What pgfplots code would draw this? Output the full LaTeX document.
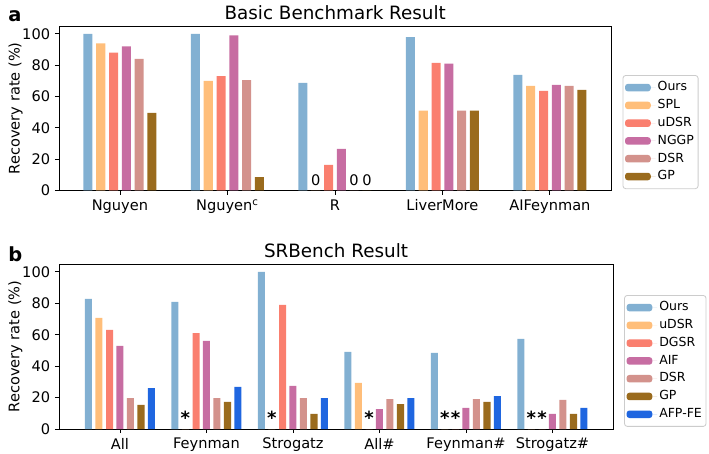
\documentclass[border=0pt]{standalone}
\usepackage{fontspec}
\setmainfont{DejaVu Sans}
\usepackage{pgfplots}
\usepackage{pgfplotstable}
\pgfplotsset{compat=1.18}

\definecolor{cOurs}{HTML}{82B0D2}
\definecolor{cSPL}{HTML}{FFBE7A}
\definecolor{cuDSR}{HTML}{FA7F6F}
\definecolor{cNGGP}{HTML}{C76DA2}
\definecolor{cDSR}{HTML}{D3928C}
\definecolor{cGP}{HTML}{9A6B1D}
\definecolor{cAFP}{HTML}{1F66E0}

\pgfplotstableread{
x Ours SPL uDSR NGGP DSR GP
0 100 94 88 92 84 49.5
1 100 70 73 99 70.5 8.5
2 68.7 0 16.3 26.5 0 0
3 98 51 81.5 81 51 51
4 73.8 66.8 63.6 67.4 66.8 64.2
}\topdata

\pgfplotstableread{
x Ours uDSR DGSR AIF DSR GP AFPFE
0 82.8 70.7 63 52.9 19.7 15.3 26
1 80.9 0 61 56 19.7 17.2 26.8
2 100 0 79 27.4 19.7 9.6 19.7
3 49 29.3 0 12.7 19 15.9 19.7
4 48.4 0 0 13.4 19 17.2 21
5 57.3 0 0 9.6 18.5 9.6 13.4
}\botdata

\tikzset{
  starnode/.style={anchor=base, font=\fontsize{13}{15}\selectfont\bfseries, inner sep=0pt},
  zeronode/.style={anchor=base, font=\fontsize{10.5}{12}\selectfont, inner sep=0pt},
}

\pgfplotsset{
  mybase/.style={
    scale only axis,
    ymin=0, ymax=105,
    ytick={0,20,40,60,80,100},
    tick align=outside,
    tick pos=left,
    major tick length=2.9pt,
    axis line style={line width=0.6pt},
    every tick/.style={black, line width=0.6pt},
    /pgf/number format/assume math mode=true,
    ticklabel style={font=\fontsize{10.5}{12}\selectfont},
    ylabel={Recovery rate (\%)},
    every axis y label/.style={at={(axis description cs:-0.0787,0.5)}, rotate=90, anchor=center, font=\fontsize{10.5}{12}\selectfont},
    every axis title/.style={at={(axis description cs:0.5,1)}, anchor=base, yshift=5pt, font=\fontsize{13.2}{15}\selectfont},
    legend image code/.code={\fill[##1] (0pt,-2.7pt) rectangle (18.5pt,2.7pt); \path (18.5pt,0pt) -- (22pt,0pt);},
    legend cell align=left,
    legend style={font=\fontsize{9}{11}\selectfont, draw=black!20, line width=0.6pt, rounded corners=2pt,
      row sep=1.3pt, inner xsep=1.5pt, inner ysep=3pt,
      nodes={inner sep=1.5pt, text height=6.6pt, text depth=1.9pt}},
  },
}

\begin{document}
\begin{tikzpicture}
\useasboundingbox (0pt,0pt) rectangle (510.48pt,326.16pt);

\node[anchor=base west, font=\fontsize{14}{16}\selectfont\bfseries, inner sep=0pt] at (5.76pt,310.32pt) {a};
\node[anchor=base west, font=\fontsize{14}{16}\selectfont\bfseries, inner sep=0pt] at (5.76pt,137.52pt) {b};

\begin{axis}[mybase,
  at={(42.48pt,189pt)}, anchor=south west,
  width=397.8pt, height=118.4pt,
  xmin=-0.567, xmax=4.573,
  xtick={0,1,2,3,4},
  xticklabels={Nguyen, Nguyen\textsuperscript{c}, R, LiverMore, AIFeynman},
  title={Basic Benchmark Result},
  legend style={at={(1.020,0.702)}, anchor=north west},
]
\addplot[ybar, bar width=0.084, bar shift=-0.2975, fill=cOurs, draw=none] table[x=x,y=Ours]{\topdata};
\addlegendentry{Ours}
\addplot[ybar, bar width=0.084, bar shift=-0.1785, fill=cSPL, draw=none] table[x=x,y=SPL]{\topdata};
\addlegendentry{SPL}
\addplot[ybar, bar width=0.084, bar shift=-0.0595, fill=cuDSR, draw=none] table[x=x,y=uDSR]{\topdata};
\addlegendentry{uDSR}
\addplot[ybar, bar width=0.084, bar shift=0.0595, fill=cNGGP, draw=none] table[x=x,y=NGGP]{\topdata};
\addlegendentry{NGGP}
\addplot[ybar, bar width=0.084, bar shift=0.1785, fill=cDSR, draw=none] table[x=x,y=DSR]{\topdata};
\addlegendentry{DSR}
\addplot[ybar, bar width=0.084, bar shift=0.2975, fill=cGP, draw=none] table[x=x,y=GP]{\topdata};
\addlegendentry{GP}
\node[zeronode] at (axis cs:1.8215,3.3) {0};
\node[zeronode] at (axis cs:2.1785,3.3) {0};
\node[zeronode] at (axis cs:2.2975,3.3) {0};
\end{axis}

\begin{axis}[mybase,
  at={(42.48pt,17.28pt)}, anchor=south west,
  width=398.9pt, height=118.8pt,
  xmin=-0.705, xmax=5.70,
  xtick={0,1,2,3,4,5},
  xticklabels={All, Feynman, Strogatz, All\#, Feynman\#, Strogatz\#},
  title={SRBench Result},
  legend style={at={(1.020,0.812)}, anchor=north west},
]
\addplot[ybar, bar width=0.081, bar shift=-0.364, fill=cOurs, draw=none] table[x=x,y=Ours]{\botdata};
\addlegendentry{Ours}
\addplot[ybar, bar width=0.081, bar shift=-0.243, fill=cSPL, draw=none] table[x=x,y=uDSR]{\botdata};
\addlegendentry{uDSR}
\addplot[ybar, bar width=0.081, bar shift=-0.121, fill=cuDSR, draw=none] table[x=x,y=DGSR]{\botdata};
\addlegendentry{DGSR}
\addplot[ybar, bar width=0.081, bar shift=0, fill=cNGGP, draw=none] table[x=x,y=AIF]{\botdata};
\addlegendentry{AIF}
\addplot[ybar, bar width=0.081, bar shift=0.121, fill=cDSR, draw=none] table[x=x,y=DSR]{\botdata};
\addlegendentry{DSR}
\addplot[ybar, bar width=0.081, bar shift=0.243, fill=cGP, draw=none] table[x=x,y=GP]{\botdata};
\addlegendentry{GP}
\addplot[ybar, bar width=0.081, bar shift=0.364, fill=cAFP, draw=none] table[x=x,y=AFPFE]{\botdata};
\addlegendentry{AFP-FE}
\node[starnode] at (axis cs:0.757,3) {*};
\node[starnode] at (axis cs:1.757,3) {*};
\node[starnode] at (axis cs:2.879,3) {*};
\node[starnode] at (axis cs:3.757,3) {*};
\node[starnode] at (axis cs:3.879,3) {*};
\node[starnode] at (axis cs:4.757,3) {*};
\node[starnode] at (axis cs:4.879,3) {*};
\end{axis}
\end{tikzpicture}
\end{document}
